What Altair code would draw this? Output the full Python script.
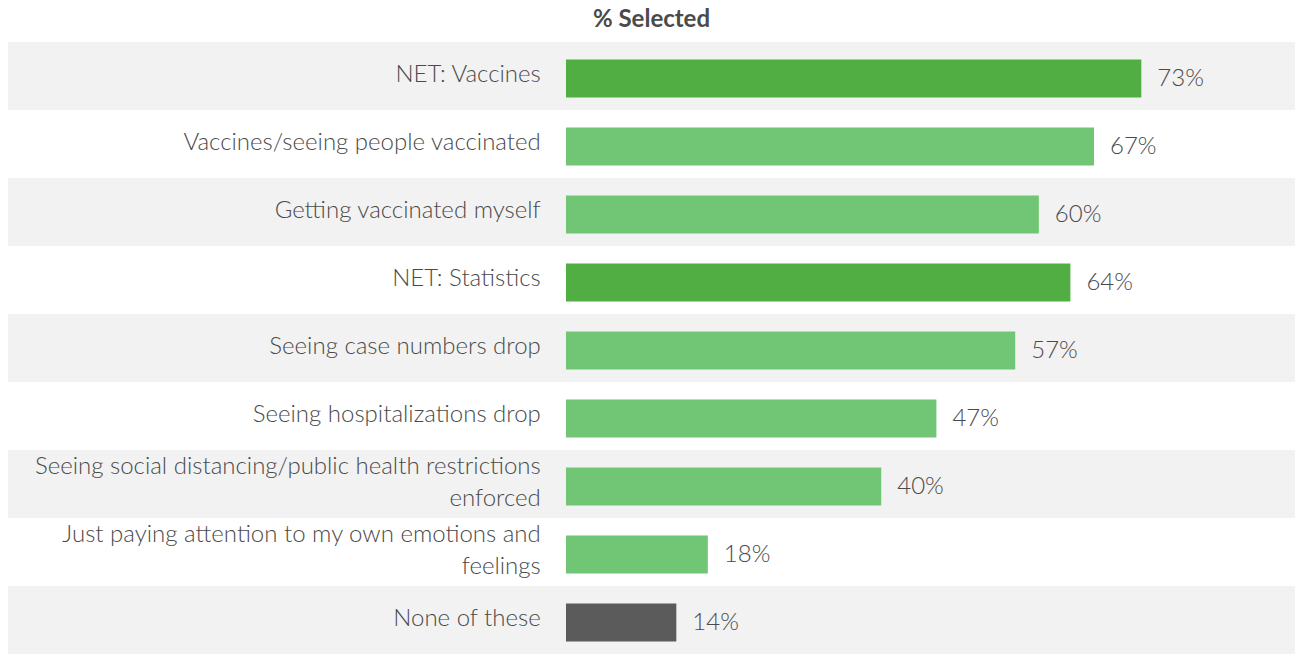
import altair as alt
import pandas as pd

categories = [
    "NET: Vaccines",
    "Vaccines/seeing people vaccinated",
    "Getting vaccinated myself",
    "NET: Statistics",
    "Seeing case numbers drop",
    "Seeing hospitalizations drop",
    "Seeing social distancing/public health restrictions enforced",
    "Just paying attention to my own emotions and feelings",
    "None of these",
]
label_line1 = [
    "NET: Vaccines",
    "Vaccines/seeing people vaccinated",
    "Getting vaccinated myself",
    "NET: Statistics",
    "Seeing case numbers drop",
    "Seeing hospitalizations drop",
    "Seeing social distancing/public health restrictions",
    "Just paying attention to my own emotions and",
    "None of these",
]
label_line2 = ["", "", "", "", "", "", "enforced", "feelings", ""]
values = [73, 67, 60, 64, 57, 47, 40, 18, 14]
groups = ["net", "item", "item", "net", "item", "item", "item", "item", "none"]
group_names = ["net", "item", "none"]
group_colors = ["#50AE43", "#71C675", "#5B5B5B"]

X_MIN, X_MAX = -70.8, 92.5
LABEL_X = -3.2

df = pd.DataFrame({
    "cat": categories,
    "l1": label_line1,
    "l2": label_line2,
    "value": values,
    "group": groups,
    "idx": list(range(len(categories))),
})
df["vlabel"] = df["value"].astype(str) + "%"
df["xmin"] = X_MIN
df["xmax"] = X_MAX
df["labx"] = LABEL_X

FONT = "Lato"
TXT = "#4A4A4A"
W = 300

xscale = alt.Scale(domain=[X_MIN, X_MAX], zero=False, nice=False)
yscale = alt.Scale(domain=categories, paddingInner=0, paddingOuter=0)
Y = alt.Y("cat:N", scale=yscale, axis=None, sort=categories)

base = alt.Chart(df)

bg = base.mark_rect(color="#F2F2F2").encode(
    x=alt.X("xmin:Q", scale=xscale, axis=None),
    x2="xmax:Q",
    y=Y,
).transform_filter("datum.idx % 2 == 0")

bars = base.mark_bar(size=38, yOffset=2.5).encode(
    x=alt.X("value:Q", scale=xscale, axis=None),
    x2=alt.datum(0),
    y=Y,
    color=alt.Color("group:N", scale=alt.Scale(domain=group_names, range=group_colors), legend=None),
)

vals = base.mark_text(align="left", baseline="middle", dx=16, dy=2.5,
                      font=FONT, fontSize=24, fontWeight=W, color=TXT).encode(
    x=alt.X("value:Q", scale=xscale, axis=None),
    y=Y,
    text="vlabel:N",
)

labs_single = base.mark_text(align="right", baseline="middle", dy=-1,
                             font=FONT, fontSize=24, fontWeight=W, color=TXT).encode(
    x=alt.X("labx:Q", scale=xscale, axis=None),
    y=Y,
    text="l1:N",
).transform_filter("datum.l2 == ''")

labs_top = base.mark_text(align="right", baseline="middle", dy=-17,
                          font=FONT, fontSize=24, fontWeight=W, color=TXT).encode(
    x=alt.X("labx:Q", scale=xscale, axis=None),
    y=Y,
    text="l1:N",
).transform_filter("datum.l2 != ''")

labs_bot = base.mark_text(align="right", baseline="middle", dy=15,
                          font=FONT, fontSize=24, fontWeight=W, color=TXT).encode(
    x=alt.X("labx:Q", scale=xscale, axis=None),
    y=Y,
    text="l2:N",
).transform_filter("datum.l2 != ''")

chart = alt.layer(bg, bars, vals, labs_single, labs_top, labs_bot).properties(
    width=1287,
    height=612,
    title=alt.TitleParams("% Selected", anchor="middle", font=FONT, fontSize=24,
                          fontWeight="bold", color=TXT, offset=10),
).configure_view(stroke=None).properties(padding=0)

chart.save("out.html", embed_options={"renderer": "svg", "actions": False})
